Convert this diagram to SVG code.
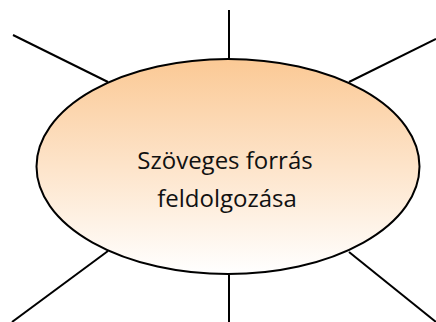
<svg xmlns="http://www.w3.org/2000/svg" width="436" height="322" viewBox="0 0 436 322">
<defs>
<linearGradient id="g" x1="0" y1="0" x2="0" y2="1">
<stop offset="0" stop-color="#FBC995"/>
<stop offset="1" stop-color="#FFFFFF"/>
</linearGradient>
<style>
.c{stroke:#000;stroke-width:2;fill:none}
.t{font-family:"Open Sans","Liberation Sans",sans-serif;font-size:24px;fill:#111;text-anchor:middle}
</style>
</defs>
<rect width="436" height="322" fill="#fff"/>
<g id="connectors">
<line class="c" x1="229" y1="10" x2="229" y2="59"/>
<line class="c" x1="13" y1="35" x2="108" y2="82"/>
<line class="c" x1="436" y1="39" x2="349" y2="82"/>
<line class="c" x1="12" y1="322" x2="108" y2="251"/>
<line class="c" x1="229" y1="275" x2="229" y2="322"/>
<line class="c" x1="349" y1="252" x2="436" y2="322"/>
</g>
<g id="center">
<ellipse cx="228" cy="166.5" rx="191.5" ry="107.5" fill="url(#g)" stroke="#000" stroke-width="2"/>
<text class="t" x="225" y="169">Szöveges forrás</text>
<text class="t" x="227" y="207">feldolgozása</text>
</g>
</svg>
